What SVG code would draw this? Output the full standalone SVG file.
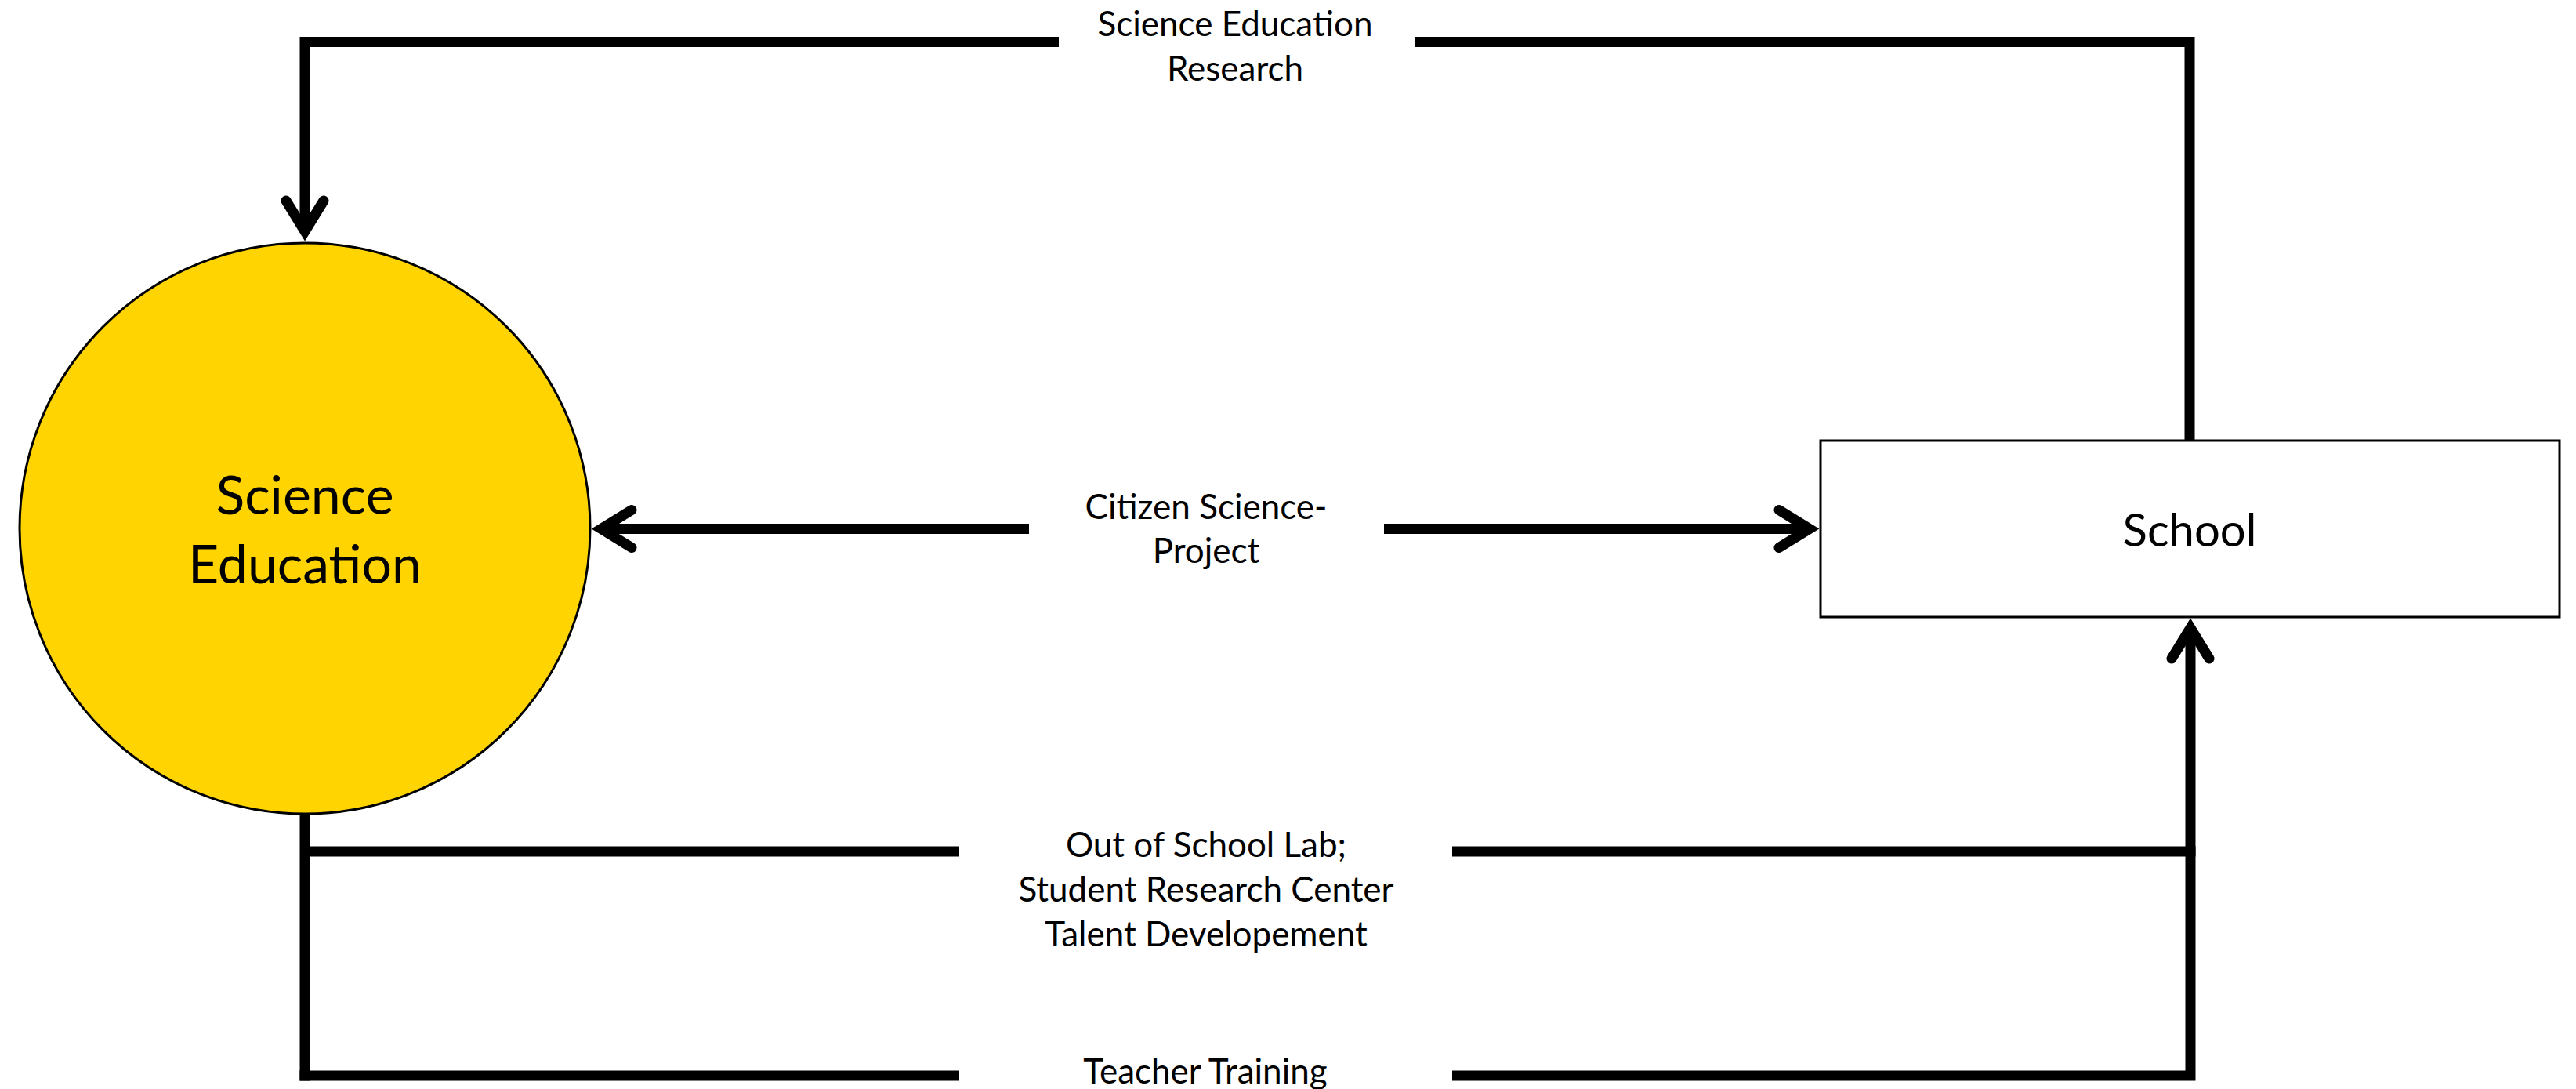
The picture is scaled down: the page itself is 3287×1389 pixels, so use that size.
<svg xmlns="http://www.w3.org/2000/svg" width="3287" height="1389" viewBox="0 0 3287 1389">
  <style>
    .wire { fill: none; stroke: #000; stroke-width: 13; stroke-linejoin: miter; stroke-linecap: butt; }
    .arrow { marker-end: url(#chevron); }
    .label { font-family: Lato, "Open Sans", sans-serif; font-size: 44px; fill: #000; text-anchor: middle; }
    .title { font-family: Lato, "Open Sans", sans-serif; fill: #000; text-anchor: middle; }
  </style>
  <defs>
    <!-- open chevron head; the line ends at the inner apex, the outer tip sits ~13px beyond -->
    <marker id="chevron" markerUnits="userSpaceOnUse" viewBox="-60 -40 90 80" refX="0" refY="0" markerWidth="90" markerHeight="80" orient="auto" overflow="visible">
      <path d="M -39 -24 L 0 0 L -39 24" fill="none" stroke="#000" stroke-width="13" stroke-linecap="round" stroke-linejoin="miter"/>
    </marker>
  </defs>
  <rect width="3287" height="1389" fill="#fff"/>

  <g id="connectors">
    <!-- Science Education Research: School -> Science Education over the top -->
    <path class="wire" d="M 2794 562 V 53.5 H 1805"/>
    <path class="wire arrow" d="M 1351 53.5 H 389 V 295"/>
    <!-- Citizen Science-Project: both directions -->
    <path class="wire arrow" d="M 1313 674.5 H 767"/>
    <path class="wire arrow" d="M 1766 674.5 H 2309"/>
    <!-- Out of School Lab / Student Research Center / Talent Development -->
    <path class="wire" d="M 389 1036 V 1378.5"/>
    <path class="wire" d="M 389 1086 H 1224"/>
    <path class="wire" d="M 1853 1086 H 2801.5"/>
    <!-- Teacher Training -->
    <path class="wire" d="M 382.5 1372 H 1224"/>
    <path class="wire arrow" d="M 1853 1372 H 2795 V 801"/>
  </g>

  <g id="node-science-education">
    <circle cx="389" cy="674" r="364" fill="#FFD400" stroke="#000" stroke-width="3"/>
    <text class="title" font-size="68" x="389" y="656">Science</text>
    <text class="title" font-size="68" x="389" y="744">Education</text>
  </g>

  <g id="node-school">
    <rect x="2323" y="562" width="943" height="225" fill="#fff" stroke="#000" stroke-width="3"/>
    <text class="title" font-size="58" x="2794" y="697">School</text>
  </g>

  <g id="labels">
    <text class="label" x="1576" y="46">Science Education</text>
    <text class="label" x="1576" y="103">Research</text>
    <text class="label" x="1539" y="662">Citizen Science-</text>
    <text class="label" x="1539" y="718">Project</text>
    <text class="label" x="1539" y="1093">Out of School Lab;</text>
    <text class="label" x="1539" y="1150">Student Research Center</text>
    <text class="label" x="1539" y="1207">Talent Developement</text>
    <text class="label" x="1538" y="1382">Teacher Training</text>
  </g>
</svg>
